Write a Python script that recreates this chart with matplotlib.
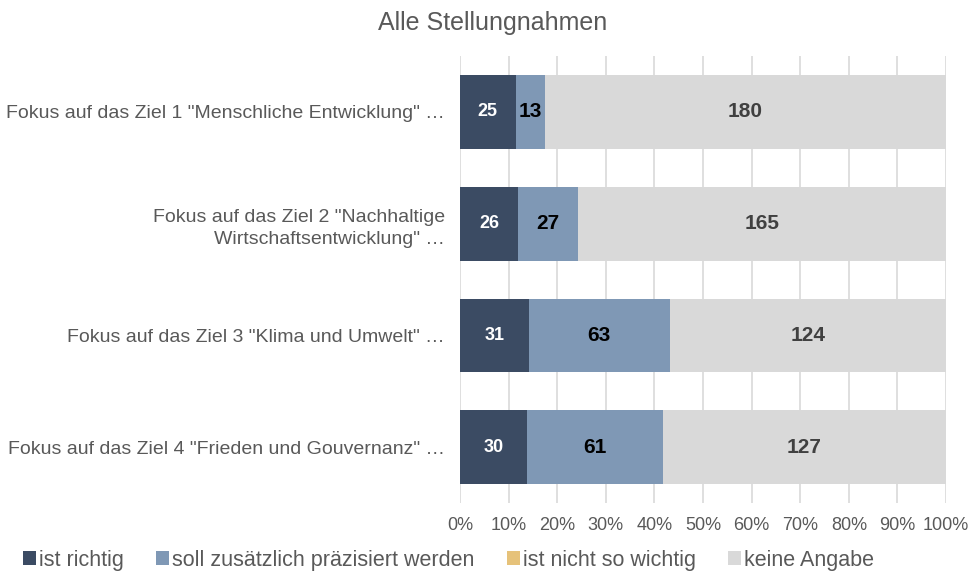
import matplotlib.pyplot as plt
import numpy as np

plt.rcParams['font.family'] = ['Liberation Sans', 'DejaVu Sans']

# ----------------- data -----------------
categories = [
    'Fokus auf das Ziel 1 "Menschliche Entwicklung" …',
    'Fokus auf das Ziel 2 "Nachhaltige\nWirtschaftsentwicklung" …',
    'Fokus auf das Ziel 3 "Klima und Umwelt" …',
    'Fokus auf das Ziel 4 "Frieden und Gouvernanz" …',
]
series_names = ['ist richtig', 'soll zusätzlich präzisiert werden',
                'ist nicht so wichtig', 'keine Angabe']
ist_richtig = [25, 26, 31, 30]
praezisiert = [13, 27, 63, 61]
nicht_wichtig = [0, 0, 0, 0]
keine_angabe = [180, 165, 124, 127]
x_ticks = [0, 10, 20, 30, 40, 50, 60, 70, 80, 90, 100]

colors = ['#3B4B63', '#7F98B5', '#E6C27A', '#D9D9D9']
label_colors = ['white', 'black', 'black', '#404040']

series = np.array([ist_richtig, praezisiert, nicht_wichtig, keine_angabe], dtype=float)
totals = series.sum(axis=0)
shares = series / totals * 100

# ----------------- figure -----------------
fig = plt.figure(figsize=(9.71, 5.74), dpi=100)
ax = fig.add_axes([0.4737, 0.1237, 0.5006, 0.7787])

y = np.arange(len(categories))
left = np.zeros(len(categories))
for i, name in enumerate(series_names):
    bars = ax.barh(y, shares[i], left=left, height=0.66, color=colors[i],
                   label=name, zorder=2)
    for j, b in enumerate(bars):
        if series[i, j] > 0:
            ax.text(left[j] + shares[i, j] / 2, y[j], f'{int(series[i, j])}',
                    ha='center', va='center', fontsize=15 if i > 0 else 13,
                    fontweight='bold', color=label_colors[i], zorder=3)
    left += shares[i]

ax.set_ylim(len(categories) - 0.5, -0.5)
ax.set_xlim(0, 100)
ax.set_xticks(x_ticks)
ax.set_xticklabels([f'{t}%' for t in x_ticks])
ax.set_yticks(y)
ax.set_yticklabels(categories, fontsize=14, color='#595959', linespacing=1.45)
ax.tick_params(axis='x', colors='#595959', labelsize=13, length=0, pad=10)
ax.tick_params(axis='y', length=0, pad=11)
ax.xaxis.grid(True, color='#D9D9D9', linewidth=1.2, zorder=0)
ax.set_axisbelow(True)
for s in ax.spines.values():
    s.set_visible(False)

fig.text(0.507, 0.96, 'Alle Stellungnahmen', ha='center', va='center',
         fontsize=18, color='#595959')

fig.legend(loc='center', bbox_to_anchor=(0.462, 0.024), ncol=4, frameon=False,
           handlelength=0.6, handleheight=0.6, handletextpad=0.15,
           columnspacing=1.5, fontsize=15.5, labelcolor='#595959')

fig.savefig('out.png', dpi=100)
